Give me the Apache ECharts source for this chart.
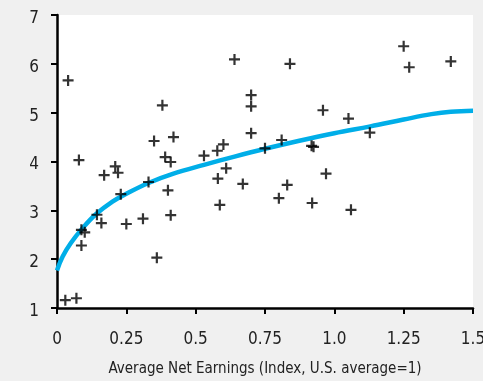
<!DOCTYPE html>
<html>
<head>
<meta charset="utf-8">
<script src="https://cdn.jsdelivr.net/npm/echarts@6/dist/echarts.min.js"></script>
<style>
  html, body { margin: 0; padding: 0; background: #f0f0f0; }
  #chart { width: 483px; height: 381px; }
</style>
</head>
<body>
<div id="chart"></div>
<script>
// Observations: average net earnings index (x) vs. outcome (y)
const earnings = [0.04, 0.079, 0.03, 0.07, 0.088, 0.10, 0.088, 0.144, 0.16, 0.17,
  0.21, 0.22, 0.23, 0.25, 0.31, 0.33, 0.35, 0.36, 0.38, 0.39,
  0.40, 0.41, 0.42, 0.41, 0.53, 0.578, 0.60, 0.58, 0.61, 0.587,
  0.64, 0.67, 0.70, 0.70, 0.70, 0.75, 0.81, 0.80, 0.83, 0.84,
  0.918, 0.925, 0.92, 0.959, 0.97, 1.051, 1.06, 1.128, 1.25, 1.27, 1.42];
const values = [5.66, 4.03, 1.16, 1.20, 2.60, 2.55, 2.28, 2.91, 2.74, 3.72,
  3.90, 3.77, 3.33, 2.72, 2.83, 3.58, 4.42, 2.03, 5.15, 4.09,
  3.41, 3.99, 4.50, 2.90, 4.12, 4.22, 4.35, 3.65, 3.86, 3.11,
  6.09, 3.54, 5.36, 5.13, 4.58, 4.27, 4.44, 3.25, 3.52, 6.00,
  4.32, 4.30, 3.15, 5.05, 3.75, 4.88, 3.01, 4.59, 6.36, 5.93, 6.05];

// Fitted trend curve
const trendX = [0, 0.02, 0.05, 0.09, 0.14, 0.2, 0.25, 0.33, 0.42, 0.53,
  0.64, 0.75, 0.87, 1.0, 1.13, 1.25, 1.35, 1.42, 1.5];
const trendY = [1.77, 2.05, 2.33, 2.62, 2.92, 3.18, 3.34, 3.56, 3.75, 3.93,
  4.10, 4.26, 4.42, 4.58, 4.72, 4.86, 4.97, 5.02, 5.04];

const xTickLabels = ['0', '0.25', '0.5', '0.75', '1.0', '1.25', '1.5'];
const xTitle = 'Average Net Earnings (Index, U.S. average=1)';

// condensed face of DejaVu Sans via the font-stretch keyword in the font shorthand
const font = '"DejaVu Sans", sans-serif';
const stretch = 'condensed';
const plus = 'path://M4,0h2v4h4v2h-4v4h-2v-4h-4v-2h4z';

const labelStyle = { fontFamily: font, fontWeight: stretch, fontSize: 17, color: '#222' };

const chart = echarts.init(document.getElementById('chart'), null, { renderer: 'canvas' });
chart.setOption({
  backgroundColor: '#f0f0f0',
  animation: false,
  grid: {
    left: 57, right: 10, top: 15, bottom: 73,
    outerBoundsMode: 'none',
    containLabel: false,
    show: true, backgroundColor: '#ffffff', borderWidth: 0
  },
  xAxis: {
    type: 'value', min: 0, max: 1.5, interval: 0.25,
    name: xTitle, nameLocation: 'middle', nameGap: 54,
    nameTextStyle: { fontFamily: font, fontWeight: stretch, fontSize: 15, color: '#222' },
    axisLine: { show: true, onZero: false, lineStyle: { color: '#000', width: 2.5 } },
    axisTick: { show: true, length: 6, lineStyle: { color: '#000', width: 2 } },
    axisLabel: Object.assign({}, labelStyle, {
      margin: 23,
      formatter: function (v) { return xTickLabels[Math.round(v / 0.25)]; }
    }),
    splitLine: { show: false }
  },
  yAxis: {
    type: 'value', min: 1, max: 7, interval: 1,
    axisLine: { show: true, onZero: false, lineStyle: { color: '#000', width: 2.5 } },
    axisTick: { show: true, length: 6, lineStyle: { color: '#000', width: 2 } },
    axisLabel: {
      margin: 18,
      formatter: function (v) { return '{n|' + v + '}'; },
      rich: { n: Object.assign({}, labelStyle, { padding: [7, 0, 0, 0] }) }
    },
    splitLine: { show: false }
  },
  series: [
    {
      type: 'line', smooth: 0.4, showSymbol: false, z: 2,
      data: trendX.map((x, i) => [x, trendY[i]]),
      lineStyle: { color: '#00aee8', width: 4.5 }
    },
    {
      type: 'scatter', symbol: plus, symbolSize: 11, z: 3,
      itemStyle: { color: '#000' },
      data: earnings.map((x, i) => [x, values[i]])
    }
  ]
});
</script>
</body>
</html>
